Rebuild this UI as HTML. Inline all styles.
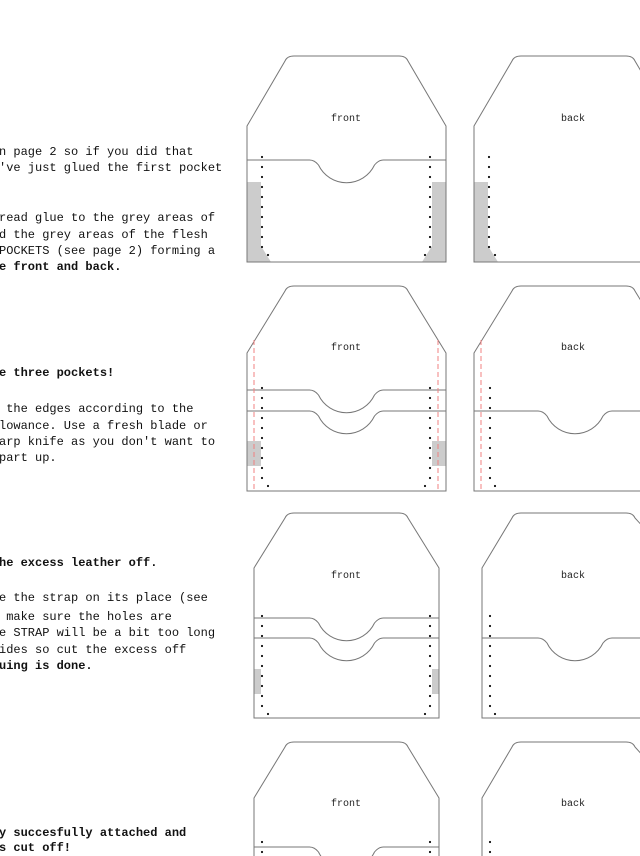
<!DOCTYPE html>
<html><head><meta charset="utf-8"><style>
html,body{margin:0;padding:0;background:#fff;width:640px;height:856px;overflow:hidden;position:relative}
.t{position:absolute;left:-1px;font-family:"Liberation Mono",monospace;font-size:12px;line-height:16px;color:#111;white-space:pre}
.b{font-weight:bold}
svg{position:absolute;left:0;top:0;overflow:hidden}
.lbl{font-family:"Liberation Mono",monospace;font-size:10px;fill:#222}
</style></head><body>
<div class="t" style="top:144px">n page 2 so if you did that</div>
<div class="t" style="top:160px">'ve just glued the first pocket</div>
<div class="t" style="top:210px">read glue to the grey areas of</div>
<div class="t" style="top:227px">d the grey areas of the flesh</div>
<div class="t" style="top:243px">POCKETS (see page 2) forming a</div>
<div class="t b" style="top:259px">e front and back.</div>
<div class="t b" style="top:365px">e three pockets!</div>
<div class="t" style="top:401px"> the edges according to the</div>
<div class="t" style="top:418px">lowance. Use a fresh blade or</div>
<div class="t" style="top:434px">arp knife as you don't want to</div>
<div class="t" style="top:450px">part up.</div>
<div class="t b" style="top:555px">he excess leather off.</div>
<div class="t" style="top:590px">e the strap on its place (see</div>
<div class="t" style="top:609px"> make sure the holes are</div>
<div class="t" style="top:625px">e STRAP will be a bit too long</div>
<div class="t" style="top:642px">ides so cut the excess off</div>
<div class="t b" style="top:658px">uing is done.</div>
<div class="t b" style="top:825px">y succesfully attached and</div>
<div class="t b" style="top:840px">s cut off!</div>

<svg id="s" width="640" height="856" xmlns="http://www.w3.org/2000/svg">
<text class="lbl" x="346" y="121" text-anchor="middle">front</text>
<text class="lbl" x="573" y="121" text-anchor="middle">back</text>
<text class="lbl" x="346" y="350" text-anchor="middle">front</text>
<text class="lbl" x="573" y="350" text-anchor="middle">back</text>
<text class="lbl" x="346" y="578" text-anchor="middle">front</text>
<text class="lbl" x="573" y="578" text-anchor="middle">back</text>
<text class="lbl" x="346" y="806" text-anchor="middle">front</text>
<text class="lbl" x="573" y="806" text-anchor="middle">back</text>
</svg>
<script>
var s=document.getElementById('s'),o='';
function P(d,st){o+='<path d="'+d+'" '+(st||'fill="none" stroke="#777" stroke-width="1"')+'/>';}
function outline(L,R,T,S,B,tl,tr){P('M'+L+','+B+' L'+L+','+S+' L'+(tl-2)+','+(T+5)+' Q'+tl+','+T+' '+(tl+7)+','+T+' L'+(tr-7)+','+T+' Q'+tr+','+T+' '+(tr+2)+','+(T+5)+' L'+R+','+S+' L'+R+','+B+' Z');}
function pocket(L,R,cx,p){P('M'+L+','+p+' L'+(cx-37)+','+p+' Q'+(cx-32)+','+p+' '+(cx-28)+','+(p+5)+' A31,31 0 0 0 '+(cx+28)+','+(p+5)+' Q'+(cx+32)+','+p+' '+(cx+37)+','+p+' L'+R+','+p);}
function dots(x,y0,y1,fx,fy){for(var y=y0;y<=y1+0.1;y+=10)o+='<circle cx="'+x+'" cy="'+y+'" r="1.1" fill="#111"/>';if(fy>0)o+='<circle cx="'+fx+'" cy="'+fy+'" r="1.1" fill="#111"/>';}
function rect(x,y,w,h){o+='<rect x="'+x+'" y="'+y+'" width="'+w+'" height="'+h+'" fill="#cccccc"/>';}
function dash(x,y0,y1){o+='<line x1="'+x+'" y1="'+y0+'" x2="'+x+'" y2="'+y1+'" stroke="#f08080" stroke-width="1" stroke-dasharray="5,3"/>';}
var cx=346.5;
P('M247,182 H261 V246 L271,262 H247Z','fill="#cccccc"');
P('M446,182 H432 V246 L422,262 H446Z','fill="#cccccc"');
P('M474,182 H488 V246 L498,262 H474Z','fill="#cccccc"');
outline(247,446,56,126,262,287,406);
outline(474,673,56,126,262,514,633);
pocket(247,446,cx,160);
dots(262,157,247,268,255);dots(430,157,247,425,255);dots(489,157,247,495,255);
rect(247,441,14,25);rect(432,441,14,25);
outline(247,446,286,353,491,287,406);
outline(474,673,286,353,491,514,633);
pocket(247,446,cx,390);pocket(247,446,cx,411);pocket(474,700,575,411);
dash(254,340,491);dash(438,340,491);dash(481,340,491);
dots(262,388,478,268,486);dots(430,388,478,425,486);dots(490,388,478,495,486);
rect(254,669,7,25);rect(432,669,7,25);
outline(254,439,513,568,718,287,406);
outline(482,681,513,568,718,514,633);
pocket(254,439,cx,618);pocket(254,439,cx,638);pocket(482,700,575,638);
dots(262,616,706,268,714);dots(430,616,706,425,714);dots(490,616,706,495,714);
outline(254,439,742,798,870,287,406);
outline(482,681,742,798,870,514,633);
pocket(254,439,cx,847);
dots(262,842,852,0,-10);dots(430,842,852,0,-10);dots(490,842,852,0,-10);
s.insertAdjacentHTML('afterbegin',o);
</script>
</body></html>
